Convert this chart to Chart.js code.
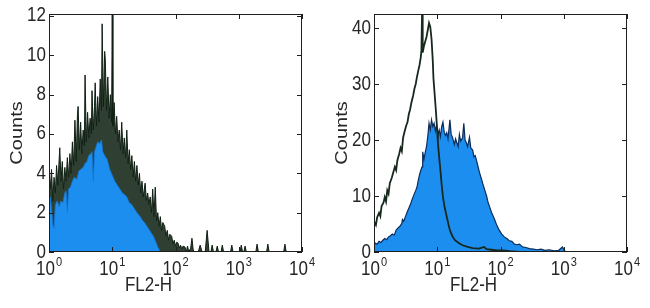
<!DOCTYPE html>
<html>
<head>
<meta charset="utf-8">
<script src="https://cdn.jsdelivr.net/npm/chart.js@4.4.0/dist/chart.umd.min.js"></script>
<style>
  html, body { margin: 0; padding: 0; background: #fff; }
  #wrap { position: relative; width: 650px; height: 308px; }
  canvas { position: absolute; top: 0; }
</style>
</head>
<body>
<div id="wrap">
  <canvas id="left" width="325" height="308" style="left:0"></canvas>
  <canvas id="right" width="325" height="308" style="left:325px"></canvas>
</div>
<script>
// x values are in decades (log10 of FL2-H), 0..4
const xTicks = [0, 1, 2, 3, 4];
const xTickBase = '10';
const xTickExp = ['0', '1', '2', '3', '4'];
const yTicksLeft = [0, 2, 4, 6, 8, 10, 12];
const yTicksRight = [0, 10, 20, 30, 40];
const xTitle = 'FL2-H';
const yTitle = 'Counts';

// left panel - outline histogram (noisy, dark)
const leftBlackX = [0.00,0.02,0.04,0.06,0.08,0.10,0.12,0.14,0.17,0.19,0.21,0.23,0.25,0.27,0.29,0.31,0.33,0.35,0.37,0.39,
  0.41,0.43,0.45,0.46,0.48,0.50,0.52,0.54,0.56,0.57,0.59,0.61,0.63,0.65,0.67,0.68,0.70,0.72,0.73,0.75,
  0.77,0.79,0.81,0.83,0.84,0.86,0.88,0.89,0.91,0.93,0.95,0.97,0.99,1.00,1.01,1.03,1.05,1.07,1.09,1.11,
  1.13,1.15,1.17,1.19,1.21,1.23,1.25,1.27,1.29,1.31,1.33,1.35,1.37,1.39,1.41,1.43,1.45,1.47,1.49,1.52,
  1.54,1.56,1.58,1.60,1.62,1.64,1.66,1.68,1.70,1.72,1.74,1.76,1.78,1.80,1.83,1.85,1.87,1.89,1.91,1.94,
  1.96,1.98,2.00,2.02,2.04,2.06,2.08,2.10,2.12,2.15,2.17,2.19,2.21,2.24,2.26,2.28,2.30,
  2.36,2.39,2.42,2.47,2.50,2.53,2.56,2.58,2.60,2.64,2.66,2.68,2.72,2.74,2.76,2.87,2.89,2.91,
  3.02,3.04,3.06,3.08,3.10,3.12,3.27,3.29,3.31,3.44,3.46,3.48,3.71,3.73,3.75];
const leftBlackY = [4.0,3.2,4.2,2.6,3.8,3.0,4.4,3.4,5.3,3.6,4.6,3.2,4.3,3.6,4.8,3.8,5.0,4.0,5.6,4.4,
  6.7,4.6,7.0,7.4,5.2,6.6,5.0,6.2,5.4,9.0,5.6,7.1,5.8,6.8,6.0,8.2,6.2,7.4,8.6,6.4,
  7.9,6.6,8.8,7.2,11.6,7.4,10.2,9.8,7.2,8.9,6.8,8.0,6.6,12.5,6.4,7.6,6.0,6.9,5.6,6.2,
  5.2,6.6,5.0,5.8,4.8,6.2,4.5,5.2,4.2,4.9,3.8,4.6,3.6,4.4,3.4,4.0,3.0,3.6,2.8,3.5,
  2.6,3.0,2.4,2.8,2.0,3.2,1.8,3.3,1.6,2.0,1.3,1.8,1.1,1.5,1.3,0.8,1.1,0.6,0.9,0.8,
  0.4,0.6,0.3,0.5,0.45,0.2,0.35,0.15,0.3,0.25,0.0,0.3,0.0,0.2,0.7,0.1,0.0,
  0,0.35,0,0,1.1,0,0,0.35,0,0,0.3,0,0,0.35,0,0,0.35,0,
  0,0.35,0,0,0.3,0,0,0.4,0,0,0.4,0,0,0.4,0];

// left panel - filled histogram (blue)
const leftBlueX = [0.00,0.02,0.04,0.06,0.08,0.10,0.13,0.16,0.19,0.22,0.25,0.27,0.29,0.31,0.34,0.37,0.40,0.44,0.47,0.50,
  0.54,0.57,0.60,0.63,0.66,0.68,0.70,0.72,0.74,0.77,0.80,0.83,0.85,0.88,0.92,0.96,1.00,1.04,1.08,1.12,
  1.16,1.20,1.23,1.27,1.31,1.35,1.39,1.44,1.48,1.52,1.56,1.60,1.65,1.69,1.72,1.76];
const leftBlueY = [2.6,2.8,2.2,1.4,1.2,2.4,2.6,2.3,2.6,2.5,3.0,3.1,2.0,3.2,3.3,3.6,3.8,3.7,4.1,4.2,
  4.3,4.5,4.6,4.9,5.0,5.1,3.6,5.1,5.3,5.6,5.5,5.7,5.1,4.9,4.7,4.2,3.9,3.6,3.4,3.2,
  3.0,2.9,2.8,2.5,2.4,2.2,2.0,1.8,1.6,1.45,1.25,1.05,0.8,0.5,0.25,0.0];

// right panel - outline histogram (control)
const rightBlackX = [0.00,0.03,0.05,0.08,0.10,0.12,0.15,0.17,0.19,0.21,0.23,0.25,0.28,0.30,0.33,0.35,0.37,0.40,0.42,0.44,
  0.46,0.49,0.51,0.53,0.55,0.57,0.59,0.62,0.64,0.66,0.68,0.70,0.72,0.74,0.75,0.76,0.77,0.79,0.81,0.83,
  0.85,0.87,0.89,0.91,0.93,0.94,0.96,0.98,1.00,1.01,1.03,1.05,1.07,1.09,1.12,1.15,1.18,1.20,1.24,1.28,
  1.34,1.40,1.48,1.56,1.66,1.74,1.78,1.86,1.95,2.04,2.15,2.30];
const rightBlackY = [5.5,4.8,6.2,7.0,6.4,8.2,8.8,9.8,9.0,11.0,10.4,12.3,13.2,14.0,15.2,14.6,16.4,17.6,18.6,18.0,
  20.4,21.8,22.6,23.2,24.6,25.4,26.6,28.0,29.2,30.0,31.3,32.4,33.4,34.8,36.0,43.0,35.6,36.8,37.6,38.4,
  39.6,40.9,40.2,38.0,34.0,31.0,28.0,25.0,21.5,19.5,17.0,14.6,12.0,9.8,7.8,6.3,4.8,3.9,2.8,2.1,
  1.6,1.2,0.9,0.7,0.6,0.9,0.5,0.4,0.3,0.3,0.15,0.0];

// right panel - filled histogram (blue)
const rightBlueX = [0.00,0.02,0.05,0.08,0.11,0.14,0.17,0.20,0.23,0.26,0.29,0.32,0.35,0.38,0.41,0.44,0.45,0.47,0.50,0.52,
  0.55,0.58,0.60,0.63,0.66,0.68,0.70,0.72,0.74,0.76,0.77,0.79,0.81,0.83,0.85,0.87,0.89,0.91,0.93,0.95,
  0.97,0.99,1.01,1.03,1.05,1.07,1.09,1.11,1.13,1.15,1.17,1.20,1.22,1.24,1.27,1.29,1.31,1.33,1.35,1.37,
  1.40,1.42,1.44,1.46,1.48,1.51,1.53,1.56,1.58,1.60,1.62,1.65,1.67,1.70,1.72,1.75,1.78,1.80,1.83,1.86,
  1.88,1.91,1.94,1.98,2.02,2.06,2.10,2.14,2.18,2.22,2.26,2.30,2.35,2.40,2.46,2.52,2.58,2.64,2.70,2.77,
  2.85,2.92,2.98,3.01,3.05];
const rightBlueY = [1.0,1.6,1.4,1.9,1.7,2.1,2.4,2.2,2.7,2.9,3.2,3.0,3.9,4.3,4.6,5.1,5.8,5.5,6.4,7.0,
  7.8,8.6,9.3,10.2,11.0,11.6,12.8,13.8,14.6,15.2,17.9,16.6,17.8,18.8,20.6,23.0,21.8,23.6,22.4,23.0,
  21.6,22.7,21.0,21.8,20.6,22.4,23.2,21.4,20.8,21.3,20.2,23.6,21.0,20.5,19.2,20.2,19.5,18.8,21.0,19.8,
  20.4,23.0,20.0,19.5,18.8,20.5,18.6,18.2,17.0,17.2,16.4,15.0,14.1,13.0,12.2,11.1,10.0,9.0,8.0,7.0,
  6.5,5.7,4.8,3.9,3.2,2.7,2.4,2.0,1.9,1.4,1.3,1.4,0.9,0.8,0.6,0.5,0.4,0.5,0.3,0.4,
  0.2,0.3,0.9,0.2,0.0];

const toPoints = (xs, ys) => xs.map((x, i) => ({ x: x, y: ys[i] }));

const FONT = '"Liberation Sans", Arial, sans-serif';
const TEXT = '#262626';
const SQUEEZE = 0.85; // the original figure was squashed horizontally

// draw text squeezed horizontally, anchored at (x, y)
function squeezed(ctx, str, x, y, align) {
  ctx.save();
  ctx.translate(x, y);
  ctx.scale(SQUEEZE, 1);
  ctx.textAlign = align;
  ctx.fillText(str, 0, 0);
  ctx.restore();
}

// MATLAB style box with inward ticks, tick labels and axis titles
const framePlugin = {
  id: 'frame',
  afterDatasetsDraw(chart) {
    const { ctx, chartArea: a, scales } = chart;
    const yTicks = chart.options.plugins.frame.yTicks;
    ctx.save();
    ctx.strokeStyle = '#1e1e1e';
    ctx.lineWidth = 1;
    ctx.strokeRect(a.left + 0.5, a.top + 0.5, a.right - a.left - 1, a.bottom - a.top - 1);
    ctx.beginPath();
    xTicks.forEach(v => {
      const px = Math.round(scales.x.getPixelForValue(v)) + 0.5;
      ctx.moveTo(px, a.bottom); ctx.lineTo(px, a.bottom - 5);
      ctx.moveTo(px, a.top); ctx.lineTo(px, a.top + 5);
    });
    yTicks.forEach(v => {
      const py = Math.round(scales.y.getPixelForValue(v)) + 0.5;
      ctx.moveTo(a.left, py); ctx.lineTo(a.left + 5, py);
      ctx.moveTo(a.right, py); ctx.lineTo(a.right - 5, py);
    });
    ctx.stroke();

    ctx.fillStyle = TEXT;
    // y tick labels
    ctx.font = '20px ' + FONT;
    ctx.textBaseline = 'middle';
    yTicks.forEach(v => {
      squeezed(ctx, String(v), a.left - 3, scales.y.getPixelForValue(v), 'right');
    });
    // x tick labels: 10 with a raised exponent
    ctx.textBaseline = 'alphabetic';
    xTicks.forEach((v, i) => {
      ctx.font = '20px ' + FONT;
      const w1 = ctx.measureText(xTickBase).width * SQUEEZE;
      ctx.font = '13px ' + FONT;
      const w2 = ctx.measureText(xTickExp[i]).width * SQUEEZE;
      const x0 = scales.x.getPixelForValue(v) - (w1 + w2 + 1) / 2;
      ctx.font = '20px ' + FONT;
      squeezed(ctx, xTickBase, x0, 275, 'left');
      ctx.font = '13px ' + FONT;
      squeezed(ctx, xTickExp[i], x0 + w1 + 1, 266, 'left');
    });
    // x title
    ctx.font = '20px ' + FONT;
    ctx.textBaseline = 'middle';
    squeezed(ctx, xTitle, (a.left + a.right) / 2 - 27, 285, 'center');
    // y title, rotated
    ctx.save();
    ctx.translate(17, (a.top + a.bottom) / 2);
    ctx.rotate(-Math.PI / 2);
    ctx.scale(1, SQUEEZE);
    ctx.textAlign = 'center';
    ctx.fillText(yTitle, 0, 0);
    ctx.restore();
    ctx.restore();
  }
};

function makeChart(id, datasets, yMax, yTicks) {
  return new Chart(document.getElementById(id), {
    type: 'line',
    data: { datasets: datasets },
    options: {
      responsive: false,
      animation: false,
      layout: { padding: { left: 0, right: 23, top: 14, bottom: 0 } },
      elements: { point: { radius: 0 }, line: { tension: 0 } },
      plugins: { legend: { display: false }, tooltip: { enabled: false }, frame: { yTicks: yTicks } },
      scales: {
        x: {
          type: 'linear', min: 0, max: 4,
          afterBuildTicks: s => { s.ticks = xTicks.map(v => ({ value: v })); },
          afterFit: s => { s.height = 56; },
          grid: { display: false, drawTicks: false },
          border: { display: false },
          ticks: { display: false }
        },
        y: {
          min: 0, max: yMax,
          afterBuildTicks: s => { s.ticks = yTicks.map(v => ({ value: v })); },
          afterFit: s => { s.width = 49; },
          grid: { display: false, drawTicks: false },
          border: { display: false },
          ticks: { display: false }
        }
      }
    },
    plugins: [framePlugin]
  });
}

makeChart('left', [
  {
    data: toPoints(leftBlueX, leftBlueY),
    borderColor: '#1478d8', borderWidth: 0.8,
    backgroundColor: '#1c8ef0', fill: 'origin'
  },
  {
    data: toPoints(leftBlackX, leftBlackY),
    borderColor: '#0f1f12', borderWidth: 1,
    backgroundColor: 'rgba(24,42,28,0.9)', fill: 'origin'
  }
], 12.1, yTicksLeft);

makeChart('right', [
  {
    data: toPoints(rightBlackX, rightBlackY),
    borderColor: '#16291c', borderWidth: 1.8, fill: false
  },
  {
    data: toPoints(rightBlueX, rightBlueY),
    borderColor: '#0b2d5c', borderWidth: 1.2,
    backgroundColor: '#1c8ef0', fill: 'origin'
  }
], 42.5, yTicksRight);
</script>
</body>
</html>
